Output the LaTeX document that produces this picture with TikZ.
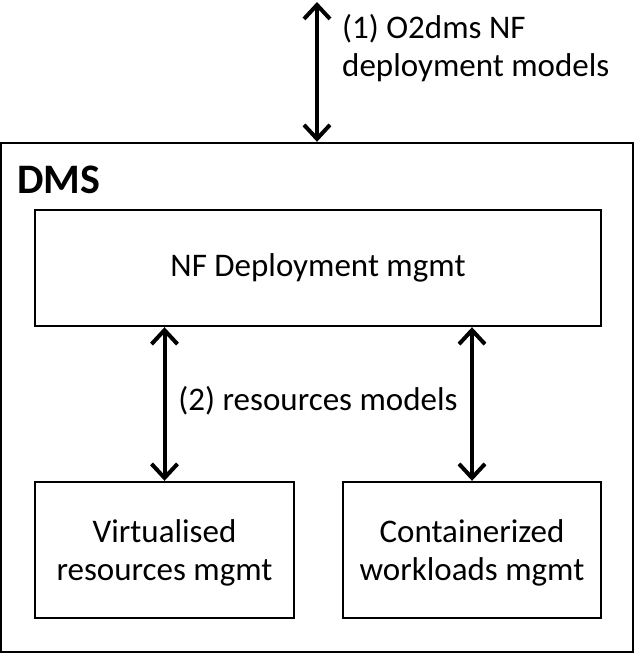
\documentclass[tikz,border=0pt]{standalone}
\usepackage{fontspec}
\setmainfont{Carlito}
\usetikzlibrary{arrows.meta}
\tikzset{
  box/.style={draw, line width=2.4pt, inner sep=0pt, align=center, font=\fontsize{33}{38}\selectfont},
  dblarrow/.style={line width=4pt, {Straight Barb[length=14pt,width=26pt]}-{Straight Barb[length=14pt,width=26pt]}},
  lbl/.style={inner sep=0pt, font=\fontsize{33}{38}\selectfont}
}
\begin{document}
\begin{tikzpicture}[x=1pt,y=-1pt]
\useasboundingbox (0,0) rectangle (634,654);
\node[box, minimum width=632pt, minimum height=509pt] (dms) at (317,397.5) {};
\node[inner sep=0pt, anchor=base west, font=\fontsize{42}{50}\selectfont\bfseries] (dmslbl) at (17,193) {DMS};
\node[box, minimum width=566pt, minimum height=116pt] (nf) at (318,268) {NF Deployment mgmt};
\node[box, minimum width=259pt, minimum height=136pt] (virt) at (164.5,550) {};
\node[box, minimum width=258pt, minimum height=136pt] (cont) at (472,550) {};
\node[lbl, align=center] (virtlbl) at (164.5,553) {Virtualised\\resources mgmt};
\node[lbl, align=center] (contlbl) at (472,553) {Containerized\\workloads mgmt};
\coordinate (top) at (317,2);
\draw[dblarrow] (top) -- (dms.north);
\draw[dblarrow] (virt.north |- nf.south) -- (virt.north);
\draw[dblarrow] (cont.north |- nf.south) -- (cont.north);
\node[lbl, anchor=base west, align=left] (l1) at (342,76) {(1) O2dms NF\\deployment models};
\node[lbl, anchor=base] (l2) at (318,410) {(2) resources models};
\end{tikzpicture}
\end{document}
